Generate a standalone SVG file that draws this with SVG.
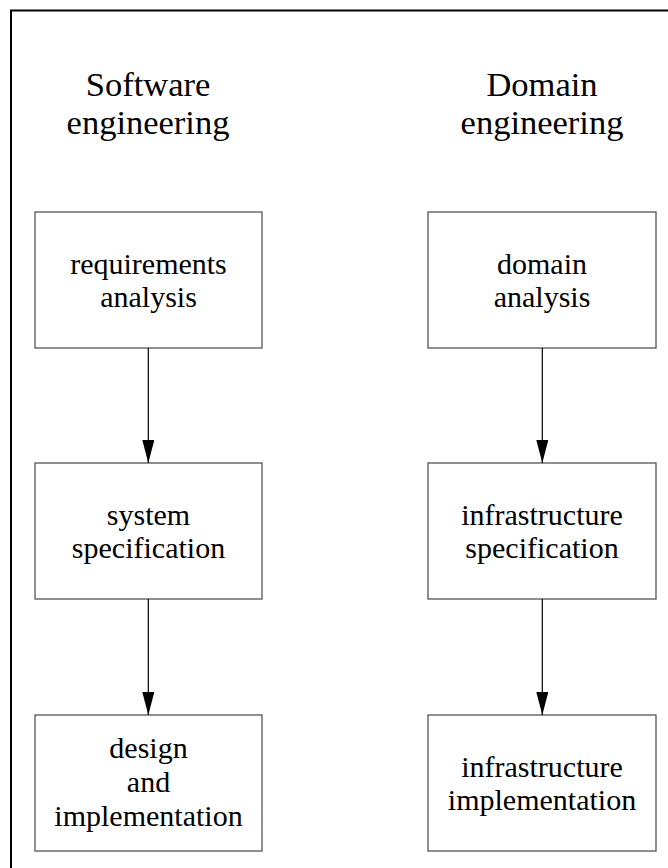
<svg xmlns="http://www.w3.org/2000/svg" width="668" height="868" viewBox="0 0 668 868">
  <defs>
    <style>
      .frame { fill: none; stroke: #000; stroke-width: 2; }
      .box { fill: #fff; stroke: #555; stroke-width: 1.3; }
      .title { font-family: "Liberation Serif", "Times New Roman", serif; font-size: 34.5px; fill: #000; text-anchor: middle; }
      .label { font-family: "Liberation Serif", "Times New Roman", serif; font-size: 30px; fill: #000; text-anchor: middle; }
      .edge { fill: none; stroke: #000; stroke-width: 1.2; }
    </style>
    <marker id="arrow" markerUnits="userSpaceOnUse" markerWidth="23" markerHeight="12" refX="23" refY="6" orient="auto">
      <path d="M0,0 L23,6 L0,12 Z" fill="#000"/>
    </marker>
  </defs>

  <rect width="668" height="868" fill="#fff"/>
  <!-- outer frame, open at right and bottom -->
  <rect class="frame" x="11" y="10.5" width="700" height="900"/>

  <!-- column headings -->
  <g id="title-software">
    <text class="title" x="148" y="95.5">Software</text>
    <text class="title" x="148" y="134">engineering</text>
  </g>
  <g id="title-domain">
    <text class="title" x="542" y="95.5">Domain</text>
    <text class="title" x="542" y="134">engineering</text>
  </g>

  <!-- left column -->
  <g id="requirements-analysis">
    <rect class="box" x="35" y="212" width="227" height="136"/>
    <text class="label" x="148.5" y="273.5">requirements</text>
    <text class="label" x="148.5" y="306.5">analysis</text>
  </g>
  <g id="system-specification">
    <rect class="box" x="35" y="463" width="227" height="136"/>
    <text class="label" x="148.5" y="525">system</text>
    <text class="label" x="148.5" y="558">specification</text>
  </g>
  <g id="design-implementation">
    <rect class="box" x="35" y="715" width="227" height="136"/>
    <text class="label" x="148.5" y="757.5">design</text>
    <text class="label" x="148.5" y="792">and</text>
    <text class="label" x="148.5" y="826">implementation</text>
  </g>

  <!-- right column -->
  <g id="domain-analysis">
    <rect class="box" x="428" y="212" width="228" height="136"/>
    <text class="label" x="542" y="273.5">domain</text>
    <text class="label" x="542" y="306.5">analysis</text>
  </g>
  <g id="infrastructure-specification">
    <rect class="box" x="428" y="463" width="228" height="136"/>
    <text class="label" x="542" y="525">infrastructure</text>
    <text class="label" x="542" y="558">specification</text>
  </g>
  <g id="infrastructure-implementation">
    <rect class="box" x="428" y="715" width="228" height="136"/>
    <text class="label" x="542" y="777">infrastructure</text>
    <text class="label" x="542" y="810">implementation</text>
  </g>

  <!-- connectors -->
  <g id="connectors">
    <line class="edge" x1="148.3" y1="348" x2="148.3" y2="463" marker-end="url(#arrow)"/>
    <line class="edge" x1="148.3" y1="599" x2="148.3" y2="715" marker-end="url(#arrow)"/>
    <line class="edge" x1="542.3" y1="348" x2="542.3" y2="463" marker-end="url(#arrow)"/>
    <line class="edge" x1="542.3" y1="599" x2="542.3" y2="715" marker-end="url(#arrow)"/>
  </g>
</svg>
